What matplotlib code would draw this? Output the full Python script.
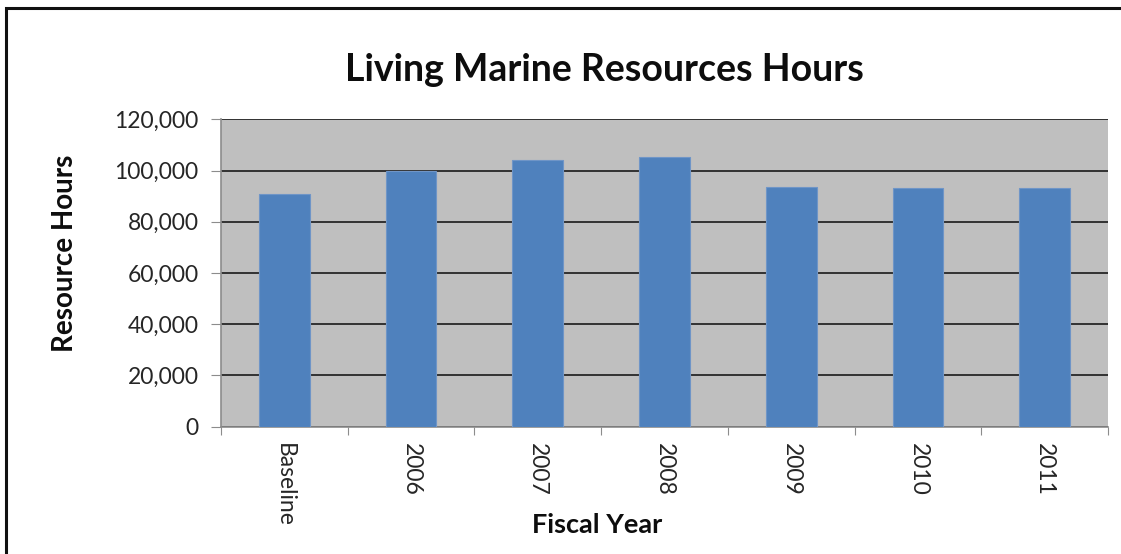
import matplotlib.pyplot as plt
from matplotlib.patches import Rectangle
from matplotlib.ticker import FuncFormatter, MultipleLocator
import numpy as np

years = ['Baseline', '2006', '2007', '2008', '2009', '2010', '2011']
hours = [91000, 100000, 104000, 105300, 93800, 93400, 93400]

plt.rcParams['font.family'] = ['Lato', 'DejaVu Sans']

fig = plt.figure(figsize=(11.21, 5.54), dpi=100)
ax = fig.add_axes([0.1971, 0.2301, 0.9884 - 0.1971, 0.7843 - 0.2301])

x = np.arange(len(years))
ax.bar(x, hours, width=0.4, color='#4F81BD', edgecolor='#6F95C7', linewidth=0.8, zorder=3)

ax.set_facecolor('#BFBFBF')
ax.set_xlim(-0.5, len(years) - 0.5)
ax.set_ylim(0, 120000)
ax.yaxis.set_major_locator(MultipleLocator(20000))
ax.yaxis.set_major_formatter(FuncFormatter(lambda v, p: f'{int(v):,}'))
ax.grid(axis='y', color='#1a1a1a', linewidth=1.2, zorder=1)

# category ticks sit between bars
ax.set_xticks(np.arange(-0.5, len(years)), minor=False)
ax.set_xticklabels([])
ax.set_xticks(x, minor=True)
ax.set_xticklabels(years, minor=True, rotation=-90, fontsize=16.5, color='#262626')
ax.tick_params(axis='x', which='minor', length=0, pad=12)
ax.tick_params(axis='x', which='major', length=6, color='#8c8c8c', direction='out')
ax.tick_params(axis='y', length=7, color='#8c8c8c', labelsize=16.5, labelcolor='#262626', pad=9)

for side in ['top', 'right']:
    ax.spines[side].set_visible(False)
ax.spines['left'].set_color('#8c8c8c')
ax.spines['bottom'].set_color('#8c8c8c')
ax.spines['left'].set_linewidth(1.2)
ax.spines['bottom'].set_linewidth(1.2)

fig.text(0.539, 0.874, 'Living Marine Resources Hours', ha='center', va='center',
         fontsize=27, fontweight='bold', color='#0d0d0d')
fig.text(0.058, 0.543, 'Resource Hours', rotation=90, ha='center', va='center',
         fontsize=20, fontweight='bold', color='#0d0d0d')
fig.text(0.533, 0.052, 'Fiscal Year', ha='center', va='center',
         fontsize=19.5, fontweight='bold', color='#0d0d0d')

# chart frame, clipped at the right and bottom edges
fig.patches.append(Rectangle((6 / 1121, -0.1), 1.2, 1.1 - 8 / 554, transform=fig.transFigure,
                             fill=False, edgecolor='#111111', linewidth=2.2))

fig.savefig('out.png', dpi=100)
